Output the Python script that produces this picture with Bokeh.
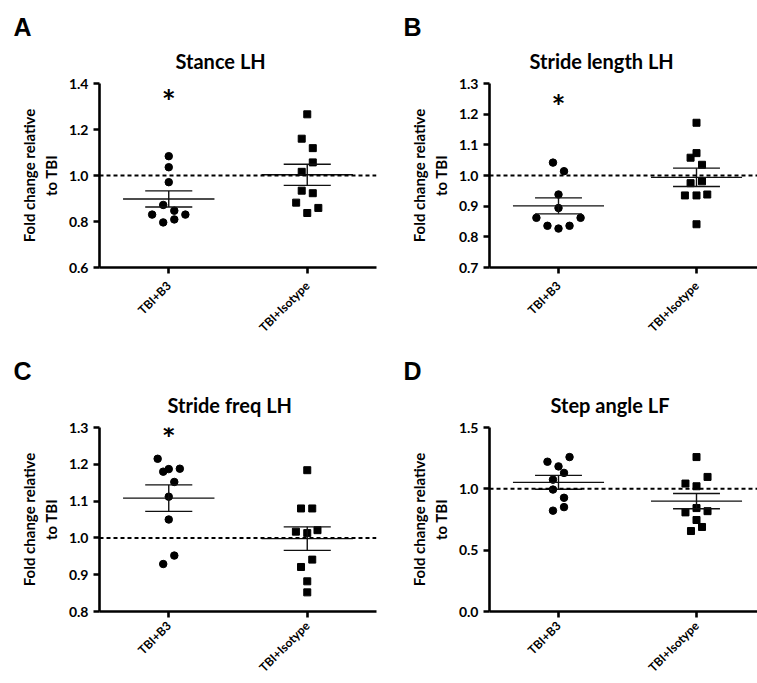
import numpy as np
from bokeh.plotting import figure
from bokeh.models import Range1d, FixedTicker, Span, Title, PrintfTickFormatter
from bokeh.layouts import column, row
from bokeh.embed import file_html
from bokeh.resources import INLINE
from bokeh.core.properties import value

groups = ["TBI+B3", "TBI+Isotype"]

# ---- Panel A: Stance LH ----
a_b3 = [1.084, 1.036, 0.971, 0.872, 0.847, 0.830, 0.830, 0.809, 0.796]
a_b3_jit = [0, 0, 0, -0.04, 0.04, -0.12, 0.12, 0.04, -0.04]
a_iso = [1.266, 1.160, 1.119, 1.057, 1.016, 0.934, 0.923, 0.882, 0.859, 0.837]
a_iso_jit = [0, -0.04, 0.04, 0.04, -0.04, -0.04, 0.04, -0.08, 0.08, 0]
a_mean = [0.898, 1.003]
a_sem = [0.035, 0.046]
a_star = [1.349]
a_ticks = [0.6, 0.8, 1.0, 1.2, 1.4]

# ---- Panel B: Stride length LH ----
b_b3 = [1.042, 1.014, 0.938, 0.894, 0.862, 0.862, 0.836, 0.836, 0.827]
b_b3_jit = [-0.04, 0.04, 0, 0, -0.16, 0.16, -0.08, 0.08, 0]
b_iso = [1.172, 1.073, 1.058, 1.035, 0.975, 0.981, 0.935, 0.935, 0.938, 0.841]
b_iso_jit = [0, 0, -0.043, 0.04, -0.043, 0.04, -0.084, 0, 0.078, 0]
b_mean = [0.901, 0.994]
b_sem = [0.026, 0.030]
b_star = [1.245]
b_ticks = [0.7, 0.8, 0.9, 1.0, 1.1, 1.2, 1.3]

# ---- Panel C: Stride freq LH ----
c_b3 = [1.215, 1.180, 1.187, 1.188, 1.152, 1.112, 1.050, 0.952, 0.929]
c_b3_jit = [-0.08, -0.04, 0, 0.08, 0.04, 0, 0, 0.04, -0.04]
c_iso = [1.184, 1.080, 1.080, 1.017, 1.013, 1.021, 0.941, 0.921, 0.882, 0.852]
c_iso_jit = [0, -0.045, 0.036, -0.082, 0, 0.074, 0.036, -0.045, 0, 0]
c_mean = [1.108, 0.998]
c_sem = [0.036, 0.032]
c_star = [1.287]
c_ticks = [0.8, 0.9, 1.0, 1.1, 1.2, 1.3]

# ---- Panel D: Step angle LF ----
d_b3 = [1.221, 1.259, 1.183, 1.130, 1.075, 0.994, 0.927, 0.851, 0.822]
d_b3_jit = [-0.08, 0.08, 0, 0.04, -0.04, -0.04, 0.04, 0.04, -0.04]
d_iso = [1.259, 1.097, 1.043, 1.021, 0.843, 0.808, 0.818, 0.746, 0.689, 0.656]
d_iso_jit = [0, 0.08, -0.08, 0, 0, -0.08, 0.08, 0, 0.04, -0.04]
d_mean = [1.053, 0.900]
d_sem = [0.057, 0.062]
d_star = []
d_ticks = [0.0, 0.5, 1.0, 1.5]

FONT = "Lato"
MEAN_HW = 0.33
SEM_HW = 0.17


def make_panel(letter, title, b3, b3_jit, iso, iso_jit, mean, sem, star, ticks,
               yr, xr_end, width, height, bl, br, bt, bb, title_offset, xlab_standoff):
    p = figure(width=width, height=height, output_backend="svg", toolbar_location=None,
               x_range=Range1d(0.5, xr_end), y_range=Range1d(*yr),
               min_border_left=bl, min_border_right=br, min_border_top=bt, min_border_bottom=bb)
    p.outline_line_color = None
    p.grid.visible = False
    p.background_fill_color = "white"
    p.border_fill_color = "white"
    p.title.text = ""

    # sub-plot title (nearest to the frame), then the panel letter above it
    p.add_layout(Title(text=title, align="left", offset=title_offset, vertical_align="top",
                       standoff=17, text_font=FONT, text_font_style="bold",
                       text_font_size="20px", text_color="black"), "above")
    p.add_layout(Title(text=letter, align="left", offset=13 - bl, vertical_align="bottom",
                       standoff=0, text_font="Liberation Sans", text_font_style="bold",
                       text_font_size="25px", text_color="black"), "above")

    # axes
    p.yaxis.ticker = FixedTicker(ticks=ticks)
    p.yaxis.formatter = PrintfTickFormatter(format="%.1f")
    p.xaxis.ticker = FixedTicker(ticks=[1, 2])
    p.xaxis.major_label_overrides = {1: groups[0], 2: groups[1]}
    for ax in (p.xaxis[0], p.yaxis[0]):
        ax.axis_line_width = 2.6
        ax.axis_line_color = "black"
        ax.major_tick_line_width = 2.6
        ax.major_tick_line_color = "black"
        ax.major_tick_out = 6
        ax.major_tick_in = 0
        ax.minor_tick_line_color = None
        ax.major_label_text_font = FONT
        ax.major_label_text_font_style = "bold"
        ax.major_label_text_color = "black"
    p.yaxis.major_label_text_font_size = "14px"
    p.yaxis.major_label_standoff = 5
    p.xaxis.major_label_text_font_size = "12px"
    p.xaxis.major_label_orientation = np.pi / 4
    p.xaxis.major_label_standoff = xlab_standoff
    p.yaxis.axis_label = "Fold change relative\nto TBI"
    p.yaxis.axis_label_text_font = FONT
    p.yaxis.axis_label_text_font_style = "bold"
    p.yaxis.axis_label_text_font_size = "15px"
    p.yaxis.axis_label_text_color = "black"
    p.yaxis.axis_label_standoff = 6

    # reference line
    p.add_layout(Span(location=1.0, dimension="width", line_color="black",
                      line_width=2, line_dash="4 3"))

    # points
    x_b3 = [1 + j for j in b3_jit]
    x_iso = [2 + j for j in iso_jit]
    p.scatter(x_b3, b3, marker="circle", size=7.5, fill_color="black", line_color="black")
    p.scatter(x_iso, iso, marker="square", size=7, fill_color="black", line_color="black")

    # mean +- SEM
    cx = [1, 2]
    p.segment([c - MEAN_HW for c in cx], mean, [c + MEAN_HW for c in cx], mean,
              line_color="#111111", line_width=1.4)
    hi = [m + s for m, s in zip(mean, sem)]
    lo = [m - s for m, s in zip(mean, sem)]
    p.segment([c - SEM_HW for c in cx], hi, [c + SEM_HW for c in cx], hi,
              line_color="#111111", line_width=1.4)
    p.segment([c - SEM_HW for c in cx], lo, [c + SEM_HW for c in cx], lo,
              line_color="#111111", line_width=1.4)
    p.segment(cx, lo, cx, hi, line_color="#111111", line_width=1.4)

    if star:
        p.text(x=[1] * len(star), y=star, text=["*"] * len(star), text_align="center",
               text_baseline="alphabetic", text_font=value(FONT), text_font_style="bold",
               text_font_size="33px", text_color="black", y_offset=6)
    return p


top_h = 344
bot_h = 339
pA = make_panel("A", "Stance LH", a_b3, a_b3_jit, a_iso, a_iso_jit, a_mean, a_sem, a_star, a_ticks,
                (0.6, 1.4), 2.5, 390, top_h, 99, 14, 83, 77, 76, 10)
pB = make_panel("B", "Stride length LH", b_b3, b_b3_jit, b_iso, b_iso_jit, b_mean, b_sem, b_star, b_ticks,
                (0.7, 1.3), 2.442, 367, top_h, 99, 0, 83, 77, 40, 10)
pC = make_panel("C", "Stride freq LH", c_b3, c_b3_jit, c_iso, c_iso_jit, c_mean, c_sem, c_star, c_ticks,
                (0.8, 1.3), 2.5, 390, bot_h, 99, 14, 83, 72, 68, 6)
pD = make_panel("D", "Step angle LF", d_b3, d_b3_jit, d_iso, d_iso_jit, d_mean, d_sem, d_star, d_ticks,
                (0.0, 1.5), 2.442, 367, bot_h, 99, 0, 83, 72, 61, 6)

layout = column(row(pA, pB), row(pC, pD))
open("out.html", "w").write(file_html(layout, INLINE))
